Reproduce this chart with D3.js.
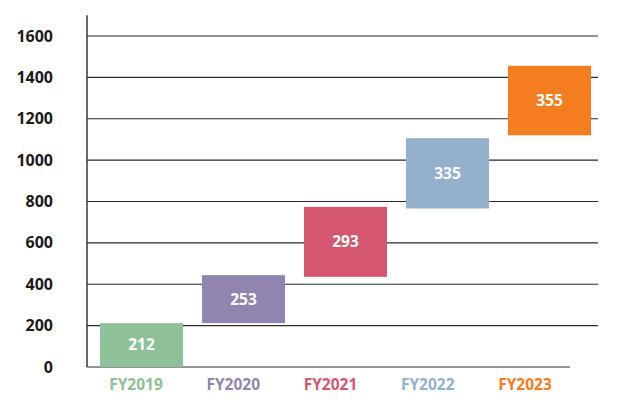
<!DOCTYPE html>
<html><head><meta charset="utf-8">
<script src="https://cdn.jsdelivr.net/npm/d3@7"></script>
<style>body{margin:0;background:#fff}svg{display:block}text{font-family:"Open Sans",Lato,sans-serif}</style>
</head><body><svg id="c" width="633" height="409"></svg>
<script>
const categories = ["FY2019","FY2020","FY2021","FY2022","FY2023"];
const values = [212, 253, 293, 335, 355];
const barStart = [0, 212, 436, 766, 1120];
const barEnd = [212, 444, 774, 1106, 1456];
const colors = ["#8dc198","#9184b1","#d5566f","#95b0cd","#f47d20"];
const yTicks = [0,200,400,600,800,1000,1200,1400,1600];

const svg = d3.select("#c");
const y = d3.scaleLinear().domain([0,1700]).range([367,15.3]);
const x = d3.scaleBand().domain(categories).range([100,591]).paddingInner(0.186).paddingOuter(0);
const xl = d3.scalePoint().domain(categories).range([136,525]);

svg.append("g").selectAll("line").data(yTicks.filter(d=>d>0)).join("line")
  .attr("x1",87).attr("x2",598).attr("y1",d=>y(d)).attr("y2",d=>y(d))
  .attr("stroke","#2a2a2a").attr("stroke-width",1.2);
svg.append("line").attr("x1",87).attr("x2",570).attr("y1",y(0)).attr("y2",y(0))
  .attr("stroke","#2a2a2a").attr("stroke-width",1.2);
const ya = svg.append("g").attr("transform","translate(87,0)")
  .call(d3.axisLeft(y).tickValues(yTicks).tickFormat(d3.format("d")).tickSize(0).tickPadding(34));
ya.select(".domain").attr("d","M0,15.3V367").attr("stroke","#2a2a2a").attr("stroke-width",1.4);
ya.selectAll("text").attr("font-size",16).attr("font-weight",700).attr("fill","#1a1a1a")
  .attr("font-family","'Open Sans',sans-serif");

const data = categories.map((c,i)=>({c, v:values[i], s:barStart[i], e:barEnd[i], col:colors[i]}));
svg.append("g").selectAll("rect").data(data).join("rect")
  .attr("x",d=>x(d.c)).attr("width",x.bandwidth())
  .attr("y",d=>y(d.e)).attr("height",d=>y(d.s)-y(d.e)).attr("fill",d=>d.col);
svg.append("g").selectAll("text").data(data).join("text")
  .attr("x",d=>x(d.c)+x.bandwidth()/2).attr("y",d=>(y(d.s)+y(d.e))/2)
  .attr("dy","0.35em").attr("text-anchor","middle").attr("fill","#fff")
  .attr("font-size",15.5).attr("font-weight",700).text(d=>d.v);
svg.append("g").selectAll("text").data(data).join("text")
  .attr("x",d=>xl(d.c)).attr("y",385).attr("dy","0.35em").attr("text-anchor","middle")
  .attr("fill",d=>d.col).attr("font-size",15.5).attr("font-weight",700).text(d=>d.c);
</script></body></html>
